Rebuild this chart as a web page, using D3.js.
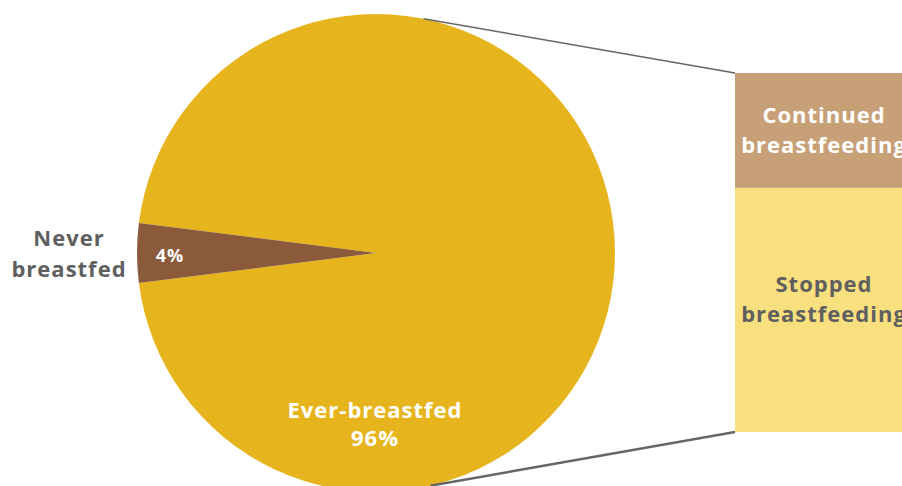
<!DOCTYPE html>
<html>
<head>
<meta charset="utf-8">
<script src="https://cdn.jsdelivr.net/npm/d3@7"></script>
<style>
  body { margin: 0; background: #fff; }
  svg { display: block; }
  text { font-family: "Segoe Print", "Comic Sans MS", "Open Sans", sans-serif; font-weight: bold; letter-spacing: 1px; }
</style>
</head>
<body>
<div id="chart"></div>
<script>
const width = 902
const height = 486

// pie data
const pieLabels = ['Ever-breastfed', 'Never breastfed']
const pieValues = [96, 4]
const pieColors = ['#E6B51E', '#8A5A3B']

// bar-of-pie data (share of ever-breastfed)
const barLabels = ['Continued breastfeeding', 'Stopped breastfeeding']
const barValues = [32, 68]
const barColors = ['#C8A077', '#F9E07F']

const center = {x: 376, y: 253}
const radius = 239

const svg = d3.select('#chart').append('svg')
  .attr('width', width)
  .attr('height', height)

const pie = d3.pie().sort(null)
  .startAngle(-0.46 * Math.PI)
  .endAngle(1.54 * Math.PI)
const arcs = pie(pieValues)
const arc = d3.arc().innerRadius(0).outerRadius(radius)

const g = svg.append('g').attr('transform', `translate(${center.x},${center.y})`)

// bar
const barX = 735
const barW = 180
const y = d3.scaleLinear().domain([0, d3.sum(barValues)]).range([73, 432])
let acc = 0
const bars = barValues.map((v, i) => {
  const b = {y0: acc, y1: acc + v, label: barLabels[i], color: barColors[i]}
  acc += v
  return b
})

// connector lines
const topPt = [center.x + radius * Math.sin(0.2), center.y - radius * Math.cos(0.2)]
const botPt = [center.x + radius * Math.sin(Math.PI - 0.23), center.y - radius * Math.cos(Math.PI - 0.23)]
svg.append('line')
  .attr('x1', topPt[0]).attr('y1', topPt[1])
  .attr('x2', barX).attr('y2', y(0))
  .attr('stroke', '#666').attr('stroke-width', 1.5)
svg.append('line')
  .attr('x1', botPt[0]).attr('y1', botPt[1])
  .attr('x2', barX).attr('y2', y(100))
  .attr('stroke', '#666').attr('stroke-width', 2.5)

g.selectAll('path')
  .data(arcs)
  .join('path')
  .attr('d', arc)
  .attr('fill', (d, i) => pieColors[i])

svg.selectAll('rect.bar')
  .data(bars)
  .join('rect')
  .attr('class', 'bar')
  .attr('x', barX)
  .attr('width', barW)
  .attr('y', d => y(d.y0))
  .attr('height', d => y(d.y1) - y(d.y0))
  .attr('fill', d => d.color)

// bar labels
const barText = [
  {lines: ['Continued', 'breastfeeding'], color: '#fff', y: 123},
  {lines: ['Stopped', 'breastfeeding'], color: '#5F5F5F', y: 292}
]
bars.forEach((b, i) => {
  const t = svg.append('text')
    .attr('text-anchor', 'middle')
    .attr('font-size', 22)
    .attr('fill', barText[i].color)
  barText[i].lines.forEach((ln, j) => {
    t.append('tspan')
      .attr('x', barX + barW / 2 - 1)
      .attr('y', barText[i].y + j * 30)
      .text(ln)
  })
})

// pie labels
const never = svg.append('text')
  .attr('text-anchor', 'middle')
  .attr('font-size', 22)
  .attr('fill', '#5F5F5F')
never.append('tspan').attr('x', 69).attr('y', 246).text('Never')
never.append('tspan').attr('x', 69).attr('y', 277).text('breastfed')

svg.append('text')
  .attr('x', 170).attr('y', 262)
  .attr('text-anchor', 'middle')
  .attr('font-size', 18)
  .attr('fill', '#fff')
  .text(pieValues[1] + '%')

const ever = svg.append('text')
  .attr('text-anchor', 'middle')
  .attr('font-size', 22)
  .attr('fill', '#fff')
ever.append('tspan').attr('x', 375).attr('y', 418).text(pieLabels[0])
ever.append('tspan').attr('x', 375).attr('y', 446).text(pieValues[0] + '%')
</script>
</body>
</html>
